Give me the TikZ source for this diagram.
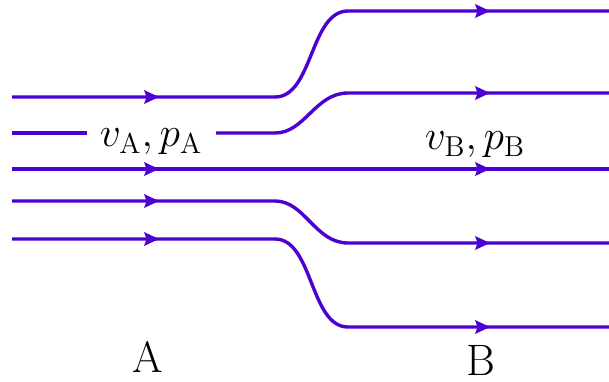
\documentclass[tikz,border=0pt]{standalone}
\definecolor{flow}{RGB}{76,0,210}
\begin{document}
\begin{tikzpicture}[x=0.5pt,y=-0.5pt,
  stream/.style={draw=flow,line width=1.7pt},
  lbl/.style={font=\fontsize{22}{26}\selectfont,inner sep=0pt}]
\useasboundingbox[fill=white] (0,0) rectangle (609,381);
\newcommand\arrowat[2]{\fill[flow] (#1,#2) -- ++(-15,-7) -- ++(2.5,7) -- ++(-2.5,7) -- cycle;}
% line 1
\draw[stream] (12,97) -- (275,97) .. controls (313,97) and (310,11) .. (348,11) -- (609,11);
% line 2
\draw[stream] (12,133) -- (87,133);
\draw[stream] (216,133) -- (275,133) .. controls (305,133) and (315,93) .. (348,93) -- (609,93);
% line 3
\draw[stream] (12,169) -- (609,169);
% line 4
\draw[stream] (12,201) -- (275,201) .. controls (305,201) and (315,243) .. (348,243) -- (609,243);
% line 5
\draw[stream] (12,239) -- (275,239) .. controls (313,239) and (310,327) .. (348,327) -- (609,327);
% arrowheads
\arrowat{159}{97}\arrowat{159}{169}\arrowat{159}{201}\arrowat{159}{239}
\arrowat{490}{11}\arrowat{490}{93}\arrowat{490}{169}\arrowat{490}{243}\arrowat{490}{327}
% labels
\node[lbl] (la) at (151,142) {$v_{\mathrm{A}},p_{\mathrm{A}}$};
\node[lbl] (lb) at (475,145) {$v_{\mathrm{B}},p_{\mathrm{B}}$};
\node[lbl] (a) at (148,357) {A};
\node[lbl] (b) at (481,360) {B};
\end{tikzpicture}
\end{document}
